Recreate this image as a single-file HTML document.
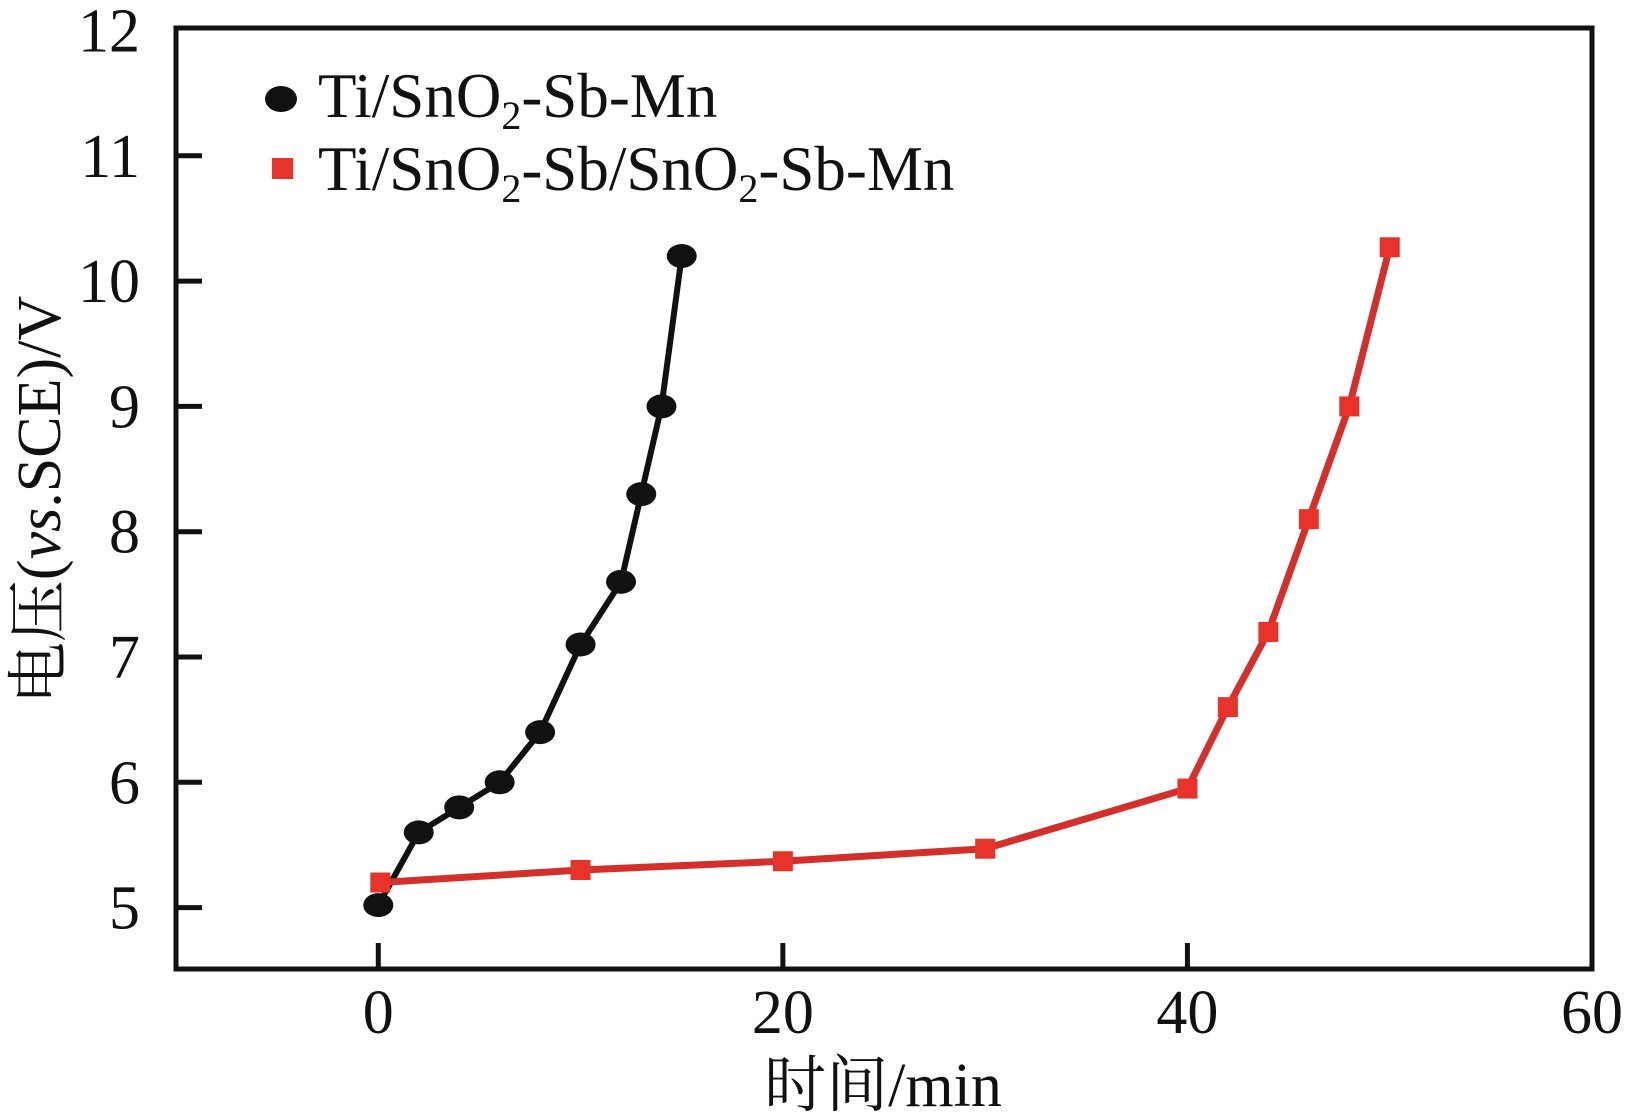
<!DOCTYPE html>
<html><head><meta charset="utf-8"><style>
html,body{margin:0;padding:0;background:#fff;}
svg{display:block;}
text{font-family:"Liberation Serif","Noto Serif CJK SC",serif;fill:#111;}
</style></head><body>
<svg id="chart" width="1631" height="1115" viewBox="0 0 1631 1115" xmlns="http://www.w3.org/2000/svg">
<g id="plot"></g>
</svg>
<script>
const blackX=[0,2,4,6,8,10,12,13,14,15];
const blackY=[5.02,5.6,5.8,6.0,6.4,7.1,7.6,8.3,9.0,10.2];
const redX=[0.1,10,20,30,40,42,44,46,48,50];
const redY=[5.2,5.3,5.37,5.47,5.95,6.6,7.2,8.1,9.0,10.27];
const xTicks=[0,20,40,60];
const yTicks=[5,6,7,8,9,10,11,12];

const L=176,R=1592,T=28,B=969;
const xmin=-10,xmax=60,ymin=4.51,ymax=12.02;
function sx(v){return L+(v-xmin)/(xmax-xmin)*(R-L);}
function sy(v){return B-(v-ymin)/(ymax-ymin)*(B-T);}
const NS="http://www.w3.org/2000/svg";
const g=document.getElementById('plot');
function mk(tag,attrs,parent){const e=document.createElementNS(NS,tag);for(const k in attrs)e.setAttribute(k,attrs[k]);(parent||g).appendChild(e);return e;}

let fr=mk('rect',{x:L,y:T,width:R-L,height:B-T,fill:'none',stroke:'#111','stroke-width':5});



yTicks.forEach(v=>{
  const y=sy(v);
  if(v<12){let t=mk('line',{x1:L,x2:L+26,y1:y,y2:y,stroke:'#111','stroke-width':5});
  
  }
  let tx=mk('text',{x:140,y:y+21,'text-anchor':'end','font-size':62});
  tx.textContent=v;
  
  
});
xTicks.forEach(v=>{
  const x=sx(v);
  if(v<60){let t=mk('line',{x1:x,x2:x,y1:B,y2:B-26,stroke:'#111','stroke-width':5});
  
  }
  let tx=mk('text',{x:x,y:1033,'text-anchor':'middle','font-size':62});
  tx.textContent=v;
  
  
});

function pts(xs,ys){return xs.map((x,i)=>sx(x)+','+sy(ys[i])).join(' ');}
let bl=mk('polyline',{points:pts(blackX,blackY),fill:'none',stroke:'#111','stroke-width':6,'stroke-linejoin':'round'});


let rl=mk('polyline',{points:pts(redX,redY),fill:'none',stroke:'#d4302b','stroke-width':7,'stroke-linejoin':'round'});


blackX.forEach((x,i)=>{
  let m=mk('ellipse',{cx:sx(x),cy:sy(blackY[i]),rx:15,ry:12,fill:'#111'});
  
  
});
redX.forEach((x,i)=>{
  let m=mk('rect',{x:sx(x)-10,y:sy(redY[i])-10,width:20,height:20,fill:'#e8332b'});
  
  
});

let le1=mk('ellipse',{cx:281,cy:99,rx:16,ry:13,fill:'#111'});


let lt1=mk('text',{x:318,y:117,'font-size':63});
lt1.innerHTML='Ti/SnO<tspan font-size="40" dy="12">2</tspan><tspan dy="-12">-Sb-Mn</tspan>';


let le2=mk('rect',{x:272,y:158,width:21,height:21,fill:'#e8332b'});


let lt2=mk('text',{x:318,y:190,'font-size':63});
lt2.innerHTML='Ti/SnO<tspan font-size="40" dy="12">2</tspan><tspan dy="-12">-Sb/SnO</tspan><tspan font-size="40" dy="12">2</tspan><tspan dy="-12">-Sb-Mn</tspan>';



let xt=mk('text',{x:883,y:1106,'text-anchor':'middle','font-size':62});
xt.textContent='时间/min';


let yt=mk('text',{x:0,y:0,'text-anchor':'middle','font-size':62,transform:'translate(60,500) rotate(-90)'});
yt.innerHTML='电压(<tspan font-style="italic">vs</tspan>.SCE)/V';


</script>
</body></html>
